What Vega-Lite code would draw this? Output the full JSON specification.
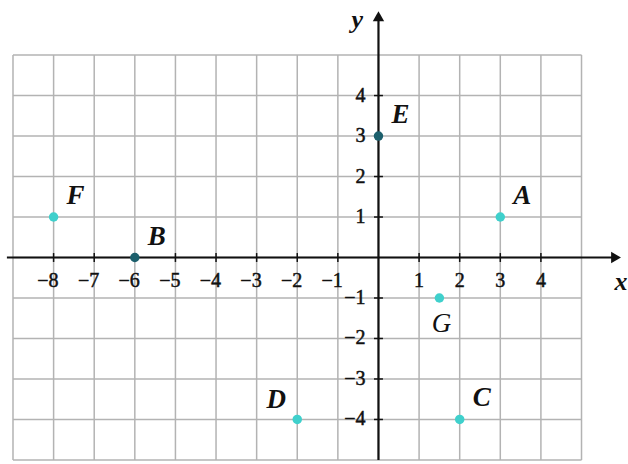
{
  "$schema": "https://vega.github.io/schema/vega-lite/v6.json",
  "width": 628,
  "height": 464,
  "autosize": {"type": "fit", "contains": "padding"},
  "padding": 0,
  "background": "white",
  "config": {"view": {"stroke": null}, "axis": {"disable": true}},
  "datasets": {
    "gridx": [{"v": -9}, {"v": -8}, {"v": -7}, {"v": -6}, {"v": -5}, {"v": -4}, {"v": -3}, {"v": -2}, {"v": -1}, {"v": 0}, {"v": 1}, {"v": 2}, {"v": 3}, {"v": 4}, {"v": 5}],
    "gridy": [{"v": -5}, {"v": -4}, {"v": -3}, {"v": -2}, {"v": -1}, {"v": 0}, {"v": 1}, {"v": 2}, {"v": 3}, {"v": 4}, {"v": 5}],
    "xticks": [
      {"v": -8, "t": "−8"}, {"v": -7, "t": "−7"}, {"v": -6, "t": "−6"}, {"v": -5, "t": "−5"},
      {"v": -4, "t": "−4"}, {"v": -3, "t": "−3"}, {"v": -2, "t": "−2"}, {"v": -1, "t": "−1"},
      {"v": 1, "t": "1"}, {"v": 2, "t": "2"}, {"v": 3, "t": "3"}, {"v": 4, "t": "4"}
    ],
    "yticks": [
      {"v": -4, "t": "−4"}, {"v": -3, "t": "−3"}, {"v": -2, "t": "−2"}, {"v": -1, "t": "−1"},
      {"v": 1, "t": "1"}, {"v": 2, "t": "2"}, {"v": 3, "t": "3"}, {"v": 4, "t": "4"}
    ],
    "points": [
      {"label": "A", "x": 3, "y": 1},
      {"label": "B", "x": -6, "y": 0},
      {"label": "C", "x": 2, "y": -4},
      {"label": "D", "x": -2, "y": -4},
      {"label": "E", "x": 0, "y": 3},
      {"label": "F", "x": -8, "y": 1},
      {"label": "G", "x": 1.5, "y": -1}
    ],
    "titles": [
      {"t": "x", "x": 5.97, "y": -0.6},
      {"t": "y", "x": -0.52, "y": 5.86}
    ]
  },
  "layer": [
    {
      "data": {"name": "gridx"},
      "mark": {"type": "rule", "color": "#b3b3b3", "strokeWidth": 1.5},
      "encoding": {
        "x": {"field": "v", "type": "quantitative", "scale": {"domain": [-9.32, 6.12], "nice": false, "zero": false}},
        "y": {"datum": -5, "scale": {"domain": [-5.1, 6.36], "nice": false, "zero": false}},
        "y2": {"datum": 5}
      }
    },
    {
      "data": {"name": "gridy"},
      "mark": {"type": "rule", "color": "#b3b3b3", "strokeWidth": 1.5},
      "encoding": {
        "y": {"field": "v", "type": "quantitative"},
        "x": {"datum": -9},
        "x2": {"datum": 5}
      }
    },
    {
      "data": {"values": [{}]},
      "mark": {"type": "rule", "color": "#111111", "strokeWidth": 2.2},
      "encoding": {"x": {"datum": -9.15}, "x2": {"datum": 5.85}, "y": {"datum": 0}}
    },
    {
      "data": {"values": [{}]},
      "mark": {"type": "rule", "color": "#111111", "strokeWidth": 2.2},
      "encoding": {"y": {"datum": -5}, "y2": {"datum": 5.96}, "x": {"datum": 0}}
    },
    {
      "data": {"values": [{}]},
      "mark": {"type": "point", "shape": "triangle-right", "filled": true, "size": 130, "color": "#111111", "opacity": 1},
      "encoding": {"x": {"datum": 5.85}, "y": {"datum": 0}}
    },
    {
      "data": {"values": [{}]},
      "mark": {"type": "point", "shape": "triangle-up", "filled": true, "size": 130, "color": "#111111", "opacity": 1},
      "encoding": {"x": {"datum": 0}, "y": {"datum": 5.96}}
    },
    {
      "data": {"name": "xticks"},
      "mark": {"type": "rule", "color": "#111111", "strokeWidth": 1.5},
      "encoding": {"x": {"field": "v", "type": "quantitative"}, "y": {"datum": -0.11}, "y2": {"datum": 0.11}}
    },
    {
      "data": {"name": "yticks"},
      "mark": {"type": "rule", "color": "#111111", "strokeWidth": 1.5},
      "encoding": {"y": {"field": "v", "type": "quantitative"}, "x": {"datum": -0.11}, "x2": {"datum": 0.11}}
    },
    {
      "data": {"name": "xticks"},
      "transform": [{"filter": "datum.v > 0"}],
      "mark": {"type": "text", "font": "Liberation Serif", "fontSize": 20, "align": "center", "baseline": "middle", "color": "#111111", "stroke": "#111111", "strokeWidth": 0.5},
      "encoding": {"x": {"field": "v", "type": "quantitative"}, "y": {"datum": -0.58}, "text": {"field": "t"}}
    },
    {
      "data": {"name": "xticks"},
      "transform": [{"filter": "datum.v < 0"}],
      "mark": {"type": "text", "font": "Liberation Serif", "fontSize": 20, "align": "right", "baseline": "middle", "dx": 5, "color": "#111111", "stroke": "#111111", "strokeWidth": 0.5},
      "encoding": {"x": {"field": "v", "type": "quantitative"}, "y": {"datum": -0.58}, "text": {"field": "t"}}
    },
    {
      "data": {"name": "yticks"},
      "mark": {"type": "text", "font": "Liberation Serif", "fontSize": 20, "align": "right", "baseline": "middle", "dx": -13, "color": "#111111", "stroke": "#111111", "strokeWidth": 0.5},
      "encoding": {"y": {"field": "v", "type": "quantitative"}, "x": {"datum": 0}, "text": {"field": "t"}}
    },
    {
      "data": {"name": "titles"},
      "mark": {"type": "text", "font": "Liberation Serif", "fontSize": 26, "fontStyle": "italic", "fontWeight": "bold", "align": "center", "baseline": "middle", "color": "#111111"},
      "encoding": {"x": {"field": "x", "type": "quantitative"}, "y": {"field": "y", "type": "quantitative"}, "text": {"field": "t"}}
    },
    {
      "data": {"name": "points"},
      "mark": {"type": "point", "filled": true, "size": 90, "opacity": 1},
      "encoding": {
        "x": {"field": "x", "type": "quantitative"},
        "y": {"field": "y", "type": "quantitative"},
        "color": {"condition": {"test": "datum.x == 0 || datum.y == 0", "value": "#1c5f6c"}, "value": "#3fd0cc"}
      }
    },
    {
      "data": {"name": "points"},
      "transform": [{"filter": "indexof(['A','B','C','E','F'], datum.label) >= 0"}],
      "mark": {"type": "text", "font": "Liberation Serif", "fontSize": 27, "fontStyle": "italic", "fontWeight": "bold", "align": "center", "baseline": "middle", "dx": 22, "dy": -21, "color": "#111111"},
      "encoding": {"x": {"field": "x", "type": "quantitative"}, "y": {"field": "y", "type": "quantitative"}, "text": {"field": "label"}}
    },
    {
      "data": {"name": "points"},
      "transform": [{"filter": "datum.label == 'D'"}],
      "mark": {"type": "text", "font": "Liberation Serif", "fontSize": 27, "fontStyle": "italic", "fontWeight": "bold", "align": "center", "baseline": "middle", "dx": -21, "dy": -19, "color": "#111111"},
      "encoding": {"x": {"field": "x", "type": "quantitative"}, "y": {"field": "y", "type": "quantitative"}, "text": {"field": "label"}}
    },
    {
      "data": {"name": "points"},
      "transform": [{"filter": "datum.label == 'G'"}],
      "mark": {"type": "text", "font": "Liberation Serif", "fontSize": 27, "fontStyle": "italic", "align": "center", "baseline": "middle", "dx": 2, "dy": 26, "color": "#111111"},
      "encoding": {"x": {"field": "x", "type": "quantitative"}, "y": {"field": "y", "type": "quantitative"}, "text": {"field": "label"}}
    }
  ]
}
